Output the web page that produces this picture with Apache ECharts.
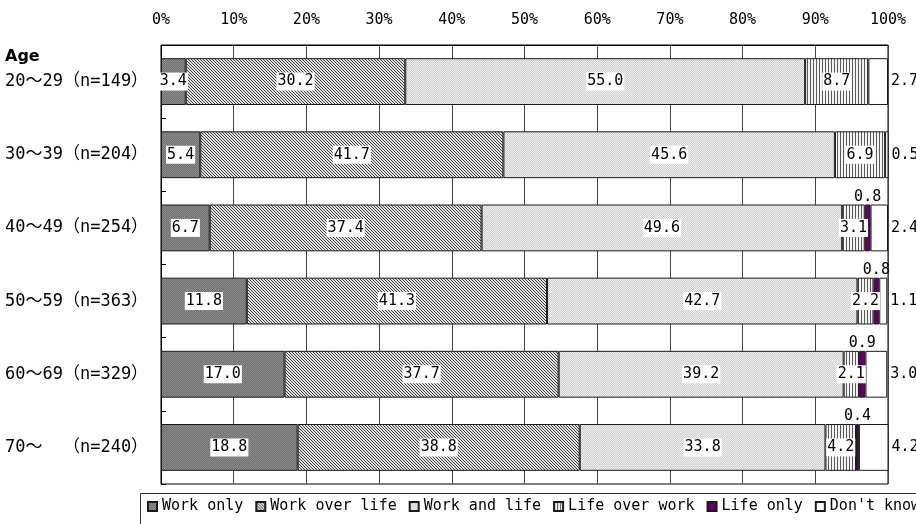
<!DOCTYPE html>
<html>
<head>
<meta charset="utf-8">
<script src="https://cdn.jsdelivr.net/npm/echarts@6/dist/echarts.min.js"></script>
<style>
  html, body { margin: 0; padding: 0; background: #fff; }
  #chart { width: 916px; height: 524px; }
</style>
</head>
<body>
<div id="chart"></div>
<script>
// Age groups (top to bottom)
const categories = ['20～29（n=149）', '30～39（n=204）', '40～49（n=254）', '50～59（n=363）', '60～69（n=329）', '70～  （n=240）'];

// Shares in percent for each answer
const workOnly     = [3.4, 5.4, 6.7, 11.8, 17.0, 18.8];
const workOverLife = [30.2, 41.7, 37.4, 41.3, 37.7, 38.8];
const workAndLife  = [55.0, 45.6, 49.6, 42.7, 39.2, 33.8];
const lifeOverWork = [8.7, 6.9, 3.1, 2.2, 2.1, 4.2];
const lifeOnly     = [0, 0, 0.8, 0.8, 0.9, 0.4];
const dontKnow     = [2.7, 0.5, 2.4, 1.1, 3.0, 4.2];

const seriesNames = ['Work only', 'Work over life', 'Work and life', 'Life over work', 'Life only', "Don't know"];
const axisTickValues = [0, 10, 20, 30, 40, 50, 60, 70, 80, 90, 100];

const FONT = "'DejaVu Sans Mono', 'Noto Sans CJK JP', monospace";

// Small pixel tiles used as fill patterns
function tile(w, h, pick) {
  const c = document.createElement('canvas');
  c.width = w; c.height = h;
  const ctx = c.getContext('2d');
  for (let y = 0; y < h; y++) {
    for (let x = 0; x < w; x++) {
      ctx.fillStyle = pick(x, y);
      ctx.fillRect(x, y, 1, 1);
    }
  }
  return { image: c, repeat: 'repeat' };
}
const fills = [
  tile(2, 2, (x, y) => ((x + y) % 2 ? '#707070' : '#8c8c8c')),
  tile(3, 3, (x, y) => (((x - y) % 3 + 3) % 3 === 0 ? '#454545' : '#dedede')),
  tile(2, 2, (x, y) => ((x + y) % 2 ? '#cdcdcd' : '#f1f1f1')),
  tile(3, 3, (x, y) => (x % 3 === 0 ? '#5a5a5a' : '#f4f4f4')),
  '#660066',
  '#ffffff'
];

const values = [workOnly, workOverLife, workAndLife, lifeOverWork, lifeOnly, dontKnow];

const insideLabel = {
  show: true,
  position: 'inside',
  color: '#000',
  fontFamily: FONT,
  fontSize: 15,
  backgroundColor: '#fff',
  padding: [2, 1, 1, 1],
  formatter: p => p.value.toFixed(1)
};

const series = values.map((arr, i) => {
  let label = insideLabel;
  if (i === 4) {
    label = { show: true, position: 'top', distance: 0, color: '#000', fontFamily: FONT, fontSize: 15,
              formatter: p => p.value.toFixed(1) };
  } else if (i === 5) {
    label = { show: true, position: 'right', distance: 3, color: '#000', fontFamily: FONT, fontSize: 15,
              formatter: p => p.value.toFixed(1) };
  }
  return {
    name: seriesNames[i],
    type: 'bar',
    stack: 'total',
    barCategoryGap: '36%',
    data: arr.map(v => (v === 0 ? '-' : v)),
    itemStyle: { color: fills[i], borderColor: '#1a1a1a', borderWidth: 1 },
    label: label,
    emphasis: { disabled: true },
    animation: false
  };
});

const chart = echarts.init(document.getElementById('chart'), null, { renderer: 'canvas' });
chart.setOption({
  animation: false,
  backgroundColor: '#fff',
  textStyle: { fontFamily: FONT },
  grid: { left: 161, right: 28, top: 45, bottom: 40, show: true, borderColor: '#000', borderWidth: 1 },
  legend: {
    left: 147,
    top: 499,
    width: 900,
    itemWidth: 9,
    itemHeight: 9,
    itemGap: 12,
    padding: 0,
    textStyle: { fontFamily: FONT, fontSize: 15, color: '#000' },
    data: seriesNames.map(n => ({ name: n, icon: 'rect' })),
    selectedMode: false
  },
  xAxis: {
    type: 'value',
    position: 'top',
    min: axisTickValues[0],
    max: axisTickValues[axisTickValues.length - 1],
    interval: 10,
    axisLine: { show: true, lineStyle: { color: '#000' } },
    axisTick: { show: false },
    axisLabel: { color: '#000', fontSize: 15, fontFamily: FONT, margin: 17, formatter: '{value}%' },
    splitLine: { show: true, lineStyle: { color: '#444', width: 1 } }
  },
  yAxis: {
    type: 'category',
    inverse: true,
    data: categories,
    axisLine: { show: true, lineStyle: { color: '#000' } },
    axisTick: { show: true, inside: true, length: 5, lineStyle: { color: '#000' } },
    axisLabel: { color: '#000', fontSize: 17, fontFamily: FONT, align: 'left', margin: 156 },
    splitLine: { show: false }
  },
  graphic: [
    { type: 'text', left: 5, top: 49,
      style: { text: 'Age', fontFamily: "'DejaVu Sans', sans-serif", fontWeight: 'bold', fontSize: 16, fill: '#000' } },
    { type: 'rect', left: 138, top: 491, silent: true, z: -1,
      shape: { width: 800, height: 60 },
      style: { fill: 'none', stroke: '#333', lineWidth: 1 } }
  ],
  series: series
});
</script>
</body>
</html>
